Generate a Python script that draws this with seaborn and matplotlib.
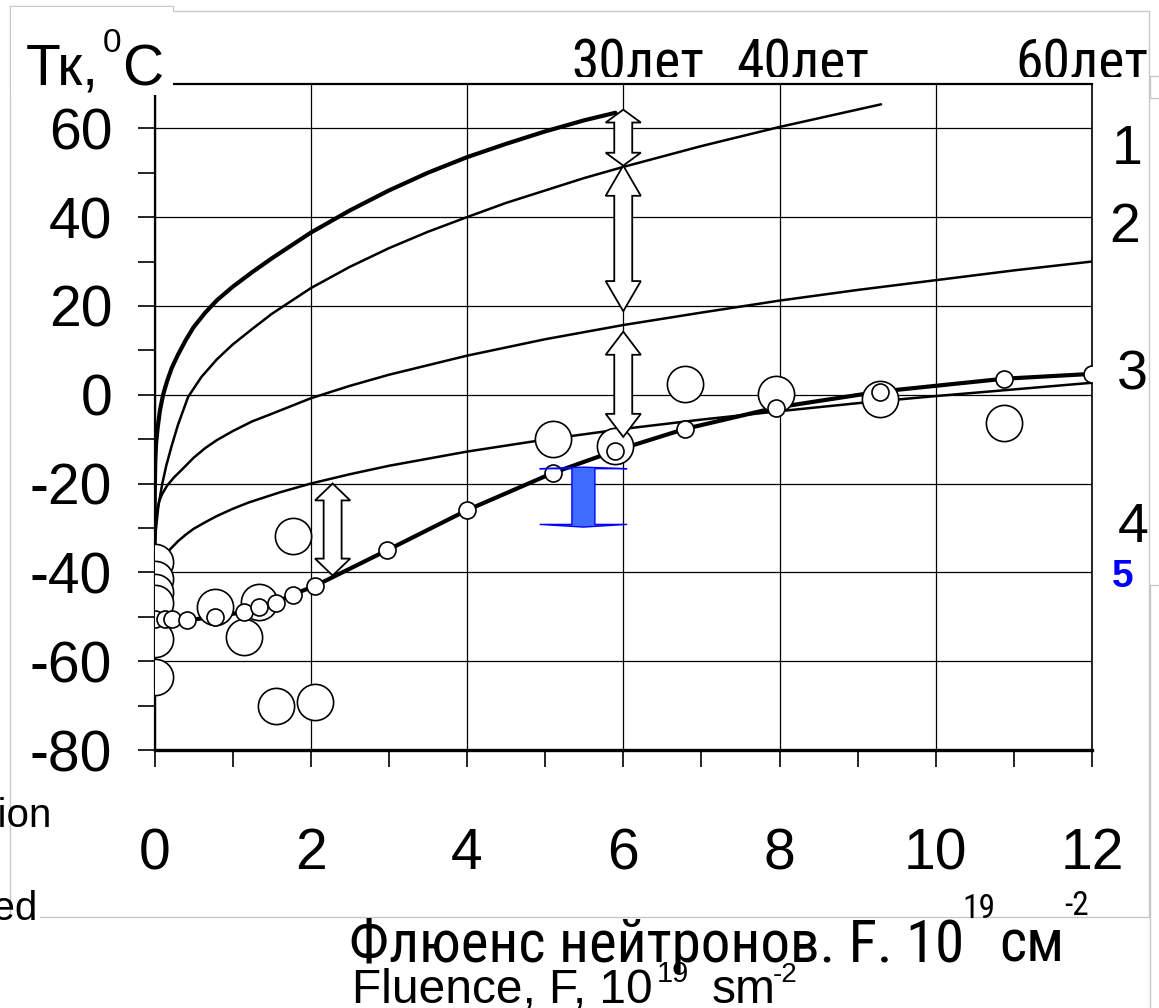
import numpy as np
import pandas as pd
import matplotlib
matplotlib.use("Agg")
import matplotlib.pyplot as plt
import seaborn as sns
from matplotlib.patches import Polygon, Rectangle
from matplotlib.lines import Line2D
from matplotlib.ticker import MultipleLocator
from matplotlib.transforms import Bbox
from matplotlib import font_manager

# ---------------- data ----------------
curve1_F = [0, 0.003, 0.01, 0.02, 0.04, 0.07, 0.11, 0.16, 0.22, 0.3, 0.4, 0.5, 0.65,
            0.8, 1.0, 1.25, 1.5, 2.0, 2.5, 3.0, 3.5, 4.0, 4.5, 5.0, 5.5, 5.9]
curve1_T = [-35, -22, -15, -11, -7.5, -3.5, 0, 3, 6, 9, 12.3, 15.2, 18.5,
            21.3, 24.3, 27.6, 30.7, 36.5, 41.5, 46, 50, 53.5, 56.5, 59.3, 61.8, 63.5]

curve2_F = [0, 0.02, 0.05, 0.1, 0.15, 0.22, 0.3, 0.43, 0.6, 0.8, 1.0, 1.25, 1.5,
            2.0, 2.5, 3.0, 3.5, 4.0, 4.5, 5.0, 5.5, 6.0, 7.0, 8.0, 9.3]
curve2_T = [-35, -30, -25, -20, -16, -11.5, -6.8, -0.5, 4, 8, 11.3, 14.8, 18.2,
            24, 28.8, 33, 36.7, 40, 43.2, 46, 48.8, 51.3, 56, 60.3, 65.4]

curve3_F = [0, 0.01, 0.03, 0.06, 0.1, 0.16, 0.25, 0.36, 0.5, 0.65, 0.8, 1.0, 1.25,
            1.5, 2.0, 2.5, 3.0, 4.0, 5.0, 6.0, 7.0, 8.0, 9.0, 10.0, 11.0, 12.0]
curve3_T = [-35, -30, -26.5, -24, -22.3, -20.5, -18.6, -16.7, -14.2, -12, -10.2, -8.2, -6,
            -4.3, -0.8, 2, 4.5, 8.8, 12.5, 15.7, 18.5, 21.2, 23.6, 25.8, 28, 30]

curve4_F = [0.15, 0.2, 0.3, 0.4, 0.5, 0.65, 0.8, 1.0, 1.2, 1.6, 2, 2.5, 3, 4, 5, 6, 7,
            8, 9, 10, 11, 12]
curve4_T = [-36, -34.8, -33, -31.5, -30.2, -28.7, -27.3, -25.7, -24.3, -22, -20, -17.9,
            -16, -12.8, -10.1, -7.7, -5.6, -3.7, -1.9, -0.3, 1.2, 2.7]

curve5_F = [0, 0.13, 0.23, 0.41, 0.77, 1.15, 1.34, 1.55, 1.77, 2.06, 2.98, 4.0,
            5.1, 5.9, 6.79, 7.95, 9.28, 10.87, 12.0]
curve5_T = [-50.6, -50.6, -50.6, -50.8, -50, -48.9, -47.7, -46.8, -45, -43, -35, -26,
            -17.6, -12.6, -7.7, -2.9, 0.7, 3.6, 4.7]

big_F = [0, 0, 0, 0, 0, 0, 0.77, 1.15, 1.34, 1.77, 1.56, 2.06,
         5.1, 5.9, 6.79, 7.96, 9.28, 10.87]
big_T = [-37.6, -41.5, -44.5, -47, -55, -63.5, -47.7, -54.5, -46.6, -31.7, -70.2, -69.1,
         -9.9, -11.5, 2.5, 0.2, -0.9, -6.3]

arrow_x = [6.0, 6.0, 6.0, 2.28]
arrow_top = [64.2, 51.6, 14.2, -20.0]
arrow_bottom = [51.6, 18.8, -9.5, -40.7]
arrow_head = [2.9, 6.8, 5.2, 3.8]

blue_x = 5.49
blue_top = -16.3
blue_bottom = -29.8

x_ticks = [0, 2, 4, 6, 8, 10, 12]
y_ticks = [-80, -60, -40, -20, 0, 20, 40, 60]
curve_labels = ["1", "2", "3", "4"]
year_labels = ["30лет", "40лет", "60лет"]

# ---------------- fonts ----------------
sns.set_theme(style="white")
names = {f.name for f in font_manager.fontManager.ttflist}
base = "Liberation Sans" if "Liberation Sans" in names else "DejaVu Sans"
narrow = base
for cand in ["Liberation Sans Narrow", "Roboto Condensed", "Open Sans Condensed"]:
    if cand in names:
        narrow = cand
        break
plt.rcParams["font.family"] = [base, "DejaVu Sans"]
plt.rcParams["axes.unicode_minus"] = False
for k in ["text.color", "axes.labelcolor", "xtick.color", "ytick.color", "axes.edgecolor"]:
    plt.rcParams[k] = "black"

W, H = 1159, 1008
fig = plt.figure(figsize=(W / 100, H / 100), dpi=100)
fig.patch.set_facecolor("white")

def fx(px):
    return px / W

def fy(py):
    return 1 - py / H

ax_left, ax_right, ax_top, ax_bot = 154.5, 1092, 83.9, 750
ax = fig.add_axes([fx(ax_left), fy(ax_bot), fx(ax_right - ax_left), (ax_bot - ax_top) / H])
ax.set_facecolor("white")

# ---------------- curves ----------------
line_specs = [(curve1_F, curve1_T, 3.0), (curve2_F, curve2_T, 1.8),
              (curve3_F, curve3_T, 1.8), (curve4_F, curve4_T, 1.8),
              (curve5_F, curve5_T, 3.0)]
for xs, ys, lw in line_specs:
    sns.lineplot(x=xs, y=ys, ax=ax, color="black", lw=lw, estimator=None,
                 sort=False, legend=False, zorder=2)

sns.scatterplot(x=big_F, y=big_T, ax=ax, s=680, color="white", edgecolor="black",
                linewidth=1.2, zorder=3, legend=False)
sns.scatterplot(x=curve5_F, y=curve5_T, ax=ax, s=150, color="white", edgecolor="black",
                linewidth=1.2, zorder=4, legend=False)

# ---------------- hollow double arrows ----------------
def double_arrow(x, yt, yb, hl_top, hl_bot, sw, hw, fc, ec, lw, z):
    pts = [(x, yt), (x + hw, yt - hl_top), (x + sw, yt - hl_top), (x + sw, yb + hl_bot),
           (x + hw, yb + hl_bot), (x, yb), (x - hw, yb + hl_bot), (x - sw, yb + hl_bot),
           (x - sw, yt - hl_top), (x - hw, yt - hl_top)]
    ax.add_patch(Polygon(pts, closed=True, facecolor=fc, edgecolor=ec, lw=lw,
                         zorder=z, joinstyle="miter"))

for xa, yt, yb, hl in zip(arrow_x, arrow_top, arrow_bottom, arrow_head):
    double_arrow(xa, yt, yb, hl, hl, 0.115, 0.225, "white", "black", 1.3, 6)

double_arrow(blue_x, blue_top, blue_bottom, 0.35, 0.6, 0.147, 0.56,
             "#3d6cff", "#0000ff", 1.0, 6)

# ---------------- axes styling ----------------
ax.set_xlim(0, 12)
ax.set_ylim(-80, 70)
ax.set_xticks(x_ticks)
ax.set_xticklabels([str(v) for v in x_ticks])
ax.set_yticks(y_ticks)
ax.set_yticklabels([str(v) for v in y_ticks])
ax.xaxis.set_minor_locator(MultipleLocator(1))
ax.yaxis.set_minor_locator(MultipleLocator(10))
ax.grid(True, which="major", color="black", lw=0.9)
ax.set_axisbelow(True)
ax.tick_params(axis="both", which="both", direction="out", length=12.5, width=1.2,
               color="black", labelcolor="black", bottom=True, left=True)
ax.tick_params(axis="y", which="major", pad=18, labelsize=41)
ax.tick_params(axis="x", which="major", pad=43, labelsize=41)
for side, lw in [("left", 1.6), ("bottom", 2.4), ("top", 1.6), ("right", 1.2)]:
    ax.spines[side].set_visible(True)
    ax.spines[side].set_color("black")
    ax.spines[side].set_linewidth(lw)
ax.set_xlabel("")
ax.set_ylabel("")

# ---------------- decorations in figure space ----------------
gray = "#c8c8c8"
frame_lines = [
    [(10, 6), (173, 6), (173, 11), (1149, 11), (1149, 917), (40, 917)],
    [(10, 6), (10, 917)],
    [(1159, 76), (1150, 76), (1150, 98), (1159, 98)],
    [(1159, 585), (1150, 585), (1150, 1008)],
]
for seg in frame_lines:
    xs = [fx(p[0]) for p in seg]
    ys = [fy(p[1]) for p in seg]
    fig.add_artist(Line2D(xs, ys, color=gray, lw=1.0, zorder=0.5))

# white box hiding the top-left corner behind the axis title
fig.add_artist(Rectangle((fx(11), fy(95)), fx(173 - 11), (95 - 7) / H,
                         facecolor="white", edgecolor="none", zorder=5))

fam = [base, "DejaVu Sans"]
nfam = [narrow, base, "DejaVu Sans"]

def put(x_px, base_px, txt, size, family, ha="left", **kw):
    return fig.text(fx(x_px), fy(base_px), txt, fontsize=size, family=family,
                    ha=ha, va="baseline", zorder=6, **kw)

# axis title
put(26, 85, "Тк,", 41, fam)
put(103, 52, "0", 24, fam)
put(122, 85, "C", 41, fam)

# lifetime labels above the plot (bottom slightly clipped as in the reference)
clip = Bbox.from_extents(0, H - 77, W, H)
year_centers = [638, 803, 1082]
for lab, cx in zip(year_labels, year_centers):
    t = put(cx, 79, lab, 40, nfam, ha="center")
    t.set_clip_box(clip)
    t.set_clip_on(True)

label_pos = [(1127, 150), (1125, 228), (1132, 375), (1133, 528)]
for lab, (px, py) in zip(curve_labels, label_pos):
    fig.text(fx(px), fy(py), lab, fontsize=40, ha="center", va="center")
fig.text(fx(1123), fy(577), "5", fontsize=28, color="#0000ff", fontweight="bold",
         ha="center", va="center")

put(52, 827, "Irradiation", 29, fam, ha="right")
put(38, 920, "Irradiated", 29, fam, ha="right")

# axis labels (Russian and English), superscripts as separate raised runs
put(349, 962, "Флюенс нейтронов. F. 10", 42.5, nfam)
put(962, 918, "19", 24, nfam)
put(999, 962, "см", 42.5, nfam)
put(1064, 915, "-2", 24, nfam)

put(352, 1003, "Fluence, F, 10", 34.5, fam)
put(657, 982, "19", 21, fam)
put(712, 1003, "sm", 34.5, fam)
put(773, 982, "-2", 20, fam)

fig.savefig("out.png", dpi=100, facecolor="white")
